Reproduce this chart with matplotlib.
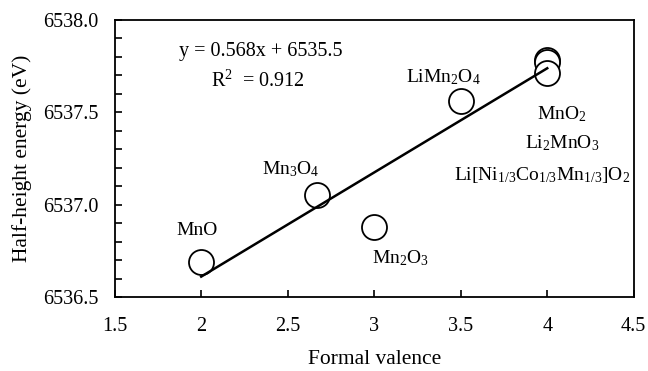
import numpy as np
import matplotlib
matplotlib.use("Agg")
import matplotlib.pyplot as plt
from matplotlib.ticker import MultipleLocator, FormatStrFormatter

plt.rcParams['font.family'] = ['Liberation Serif', 'DejaVu Serif']
plt.rcParams['mathtext.fontset'] = 'custom'
plt.rcParams['mathtext.rm'] = 'Liberation Serif'
plt.rcParams['mathtext.it'] = 'Liberation Serif'

compounds = ['MnO', 'Mn3O4', 'Mn2O3', 'LiMn2O4', 'MnO2', 'Li2MnO3', 'NMC']
valence = [2.0, 2.667, 3.0, 3.5, 4.0, 4.0, 4.0]
energy = [6536.69, 6537.05, 6536.88, 6537.56, 6537.78, 6537.77, 6537.71]

labels = [r'MnO', r'Mn$_3$O$_4$', r'Mn$_2$O$_3$', r'LiMn$_2$O$_4$', r'MnO$_2$',
          r'Li$_2$MnO$_3$', r'Li[Ni$_{1/3}$Co$_{1/3}$Mn$_{1/3}$]O$_2$']
label_pos = [(1.975, 6536.86), (2.52, 6537.19), (3.15, 6536.71), (3.40, 6537.69),
             (4.085, 6537.49), (4.085, 6537.33), (3.97, 6537.16)]

fig = plt.figure(figsize=(6.48, 3.71), dpi=100)
ax = fig.add_axes([0.177, 0.199, 0.801, 0.748])

ax.plot(valence, energy, 'o', markersize=18, markerfacecolor='white',
        markeredgecolor='black', markeredgewidth=1.3, zorder=2)

slope, intercept = np.polyfit(valence, energy, 1)
xf = np.array([min(valence), max(valence)])
ax.plot(xf, slope * xf + intercept, color='black', lw=1.8, zorder=3)

for lab, (lx, ly) in zip(labels, label_pos):
    ax.text(lx, ly, lab, ha='center', va='center', fontsize=14)

ax.text(2.345, 6537.83, 'y = 0.568x + 6535.5', ha='center', va='center', fontsize=14.5)
ax.text(2.33, 6537.67, r'R$^2$  = 0.912', ha='center', va='center', fontsize=14.5)

ax.set_xlim(1.5, 4.5)
ax.set_ylim(6536.5, 6538.0)
ax.xaxis.set_major_locator(MultipleLocator(0.5))
ax.yaxis.set_major_locator(MultipleLocator(0.5))
ax.yaxis.set_minor_locator(MultipleLocator(0.1))
ax.yaxis.set_major_formatter(FormatStrFormatter('%.1f'))
ax.xaxis.set_major_formatter(matplotlib.ticker.FuncFormatter(lambda v, p: f'{v:g}'))
ax.tick_params(axis='both', which='both', direction='in', labelsize=14.5, width=1.2)
ax.tick_params(axis='both', which='major', length=5)
ax.tick_params(axis='x', which='major', pad=14)
ax.tick_params(axis='y', which='minor', length=5)
ax.tick_params(axis='y', which='major', pad=12)
for s in ax.spines.values():
    s.set_linewidth(1.3)

ax.set_xlabel('Formal valence', fontsize=15.5)
ax.set_ylabel('Half-height energy (eV)', fontsize=15.5)
ax.xaxis.set_label_coords(0.5, -0.19)
ax.yaxis.set_label_coords(-0.16, 0.5)

fig.savefig('out.png', dpi=100)
